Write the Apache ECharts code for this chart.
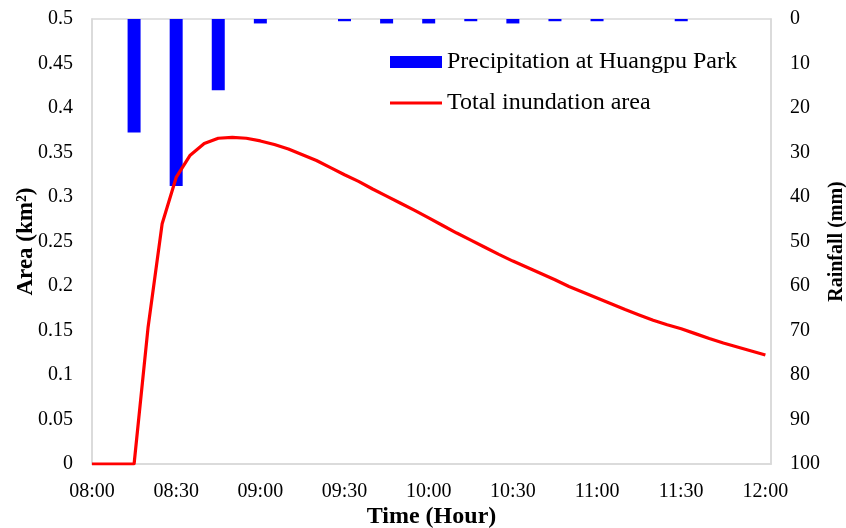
<!DOCTYPE html>
<html>
<head>
<meta charset="utf-8">
<script src="https://cdn.jsdelivr.net/npm/echarts@6/dist/echarts.min.js"></script>
<style>html,body{margin:0;padding:0;background:#fff}#c{width:846px;height:528px}</style>
</head>
<body>
<div id="c"></div>
<script>
// minutes after 08:00
var lineMinutes = [0,5,10,15,20,25,30,35,40,45,50,55,60,65,70,75,80,85,90,95,100,105,110,115,120,125,130,135,140,145,150,155,160,165,170,175,180,185,190,195,200,205,210,215,220,225,230,235,240];
var areaValues = [0,0,0,0,0.154,0.27,0.322,0.347,0.360,0.366,0.367,0.366,0.363,0.359,0.354,0.3475,0.341,0.333,0.325,0.3175,0.309,0.301,0.293,0.285,0.2765,0.268,0.2595,0.2515,0.2435,0.2355,0.228,0.221,0.214,0.207,0.1995,0.193,0.1865,0.180,0.1735,0.1675,0.1615,0.1565,0.152,0.1465,0.141,0.136,0.1315,0.127,0.1225];
var rainMinutes = [15,30,45,60,75,90,105,120,135,150,165,180,195,210,225,240];
var rainValues = [25.5,37.5,16,1,0,0.5,1,1,0.5,1,0.5,0.5,0,0.5,0,0];

var seriesNames = ['Precipitation at Huangpu Park','Total inundation area'];
var axisNames = {x:'Time (Hour)', yLeft:'Area (km\u00b2)', yRight:'Rainfall (mm)'};

function fmtTime(m){
  var h = 8 + Math.floor(m/60), mm = m % 60;
  return (h<10?'0':'') + h + ':' + (mm<10?'0':'') + mm;
}
var FONT = 'Liberation Serif';
var legendText = {fontFamily:FONT,fontSize:24,color:'#000'};
var tickText = {fontFamily:FONT,fontSize:20,color:'#000'};
function title(sz){return {fontFamily:FONT,fontSize:sz,fontWeight:'bold',color:'#000'};}
var chart = echarts.init(document.getElementById('c'));
chart.setOption({
  animation:false,
  backgroundColor:'#fff',
  textStyle:{fontFamily:FONT,color:'#000'},
  grid:{left:92,right:75,top:19,bottom:64,show:true,borderColor:'#d9d9d9',borderWidth:1.5,containLabel:false,outerBoundsMode:'none'},
  legend:[{
    orient:'horizontal',left:385,top:45,itemWidth:52,itemHeight:12,itemGap:5,
    textStyle:legendText,
    data:[{name:seriesNames[0],icon:'rect'}]
  },{
    orient:'horizontal',left:385,top:86,itemWidth:52,itemHeight:3,itemGap:5,
    textStyle:legendText,
    data:[{name:seriesNames[1],icon:'rect'}]
  }],
  xAxis:{
    type:'value',min:0,max:242,interval:30,
    name:axisNames.x,nameLocation:'middle',nameGap:41,nameMoveOverlap:false,
    nameTextStyle:title(24),
    axisLine:{show:true,lineStyle:{color:'#d9d9d9',width:1.5}},
    axisTick:{show:false},splitLine:{show:false},
    axisLabel:Object.assign({margin:18,showMaxLabel:false,
      formatter:function(v){return v%30===0?fmtTime(v):'';}},tickText)
  },
  yAxis:[{
    type:'value',min:0,max:0.5,interval:0.05,position:'left',
    name:axisNames.yLeft,nameLocation:'middle',nameGap:54,nameRotate:90,nameMoveOverlap:false,
    nameTextStyle:title(23),
    axisLine:{show:true,lineStyle:{color:'#d9d9d9',width:1.5}},
    axisTick:{show:false},splitLine:{show:false},
    axisLabel:Object.assign({margin:19,
      formatter:function(v){return String(Math.round(v*100)/100);}},tickText)
  },{
    type:'value',min:0,max:100,interval:10,position:'right',inverse:true,
    name:axisNames.yRight,nameLocation:'middle',nameGap:56,nameRotate:90,nameMoveOverlap:false,
    nameTextStyle:title(20),
    axisLine:{show:true,lineStyle:{color:'#d9d9d9',width:1.5}},
    axisTick:{show:false},splitLine:{show:false},
    axisLabel:Object.assign({margin:19},tickText)
  }],
  series:[{
    name:seriesNames[0],type:'bar',yAxisIndex:1,barWidth:13,
    itemStyle:{color:'#0000ff'},
    data:rainMinutes.map(function(m,i){return [m,rainValues[i]];})
  },{
    name:seriesNames[1],type:'line',yAxisIndex:0,symbol:'none',
    lineStyle:{color:'#ff0000',width:3.2},itemStyle:{color:'#ff0000'},
    data:lineMinutes.map(function(m,i){return [m,areaValues[i]];})
  }]
});
</script>
</body>
</html>
